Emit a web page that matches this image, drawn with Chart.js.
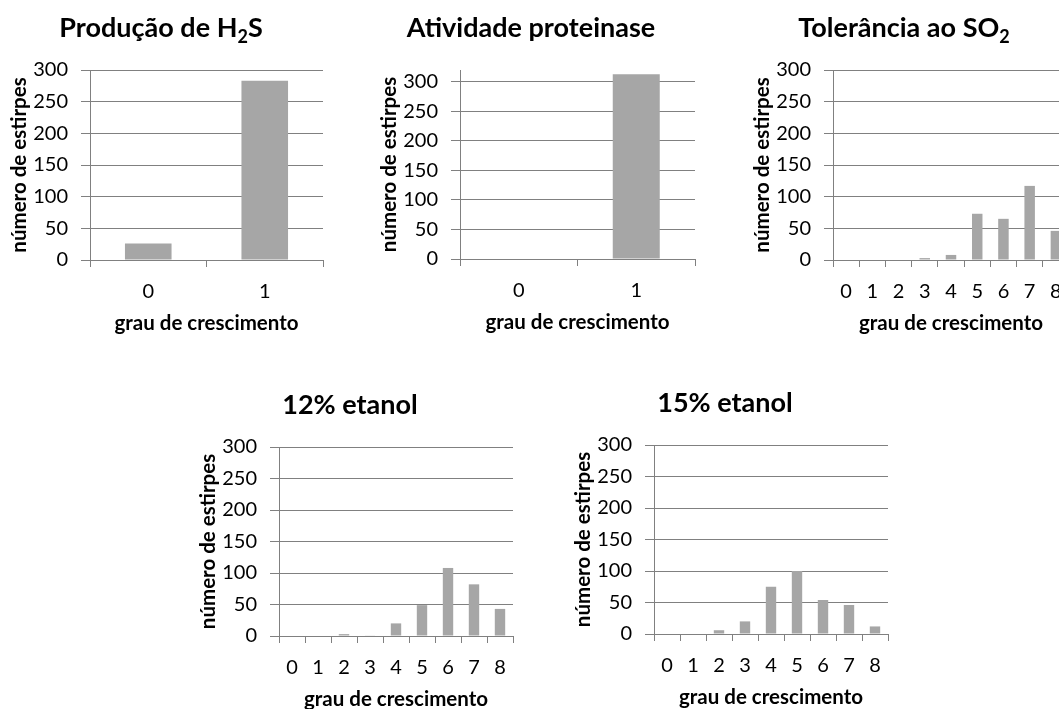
<!DOCTYPE html>
<html>
<head>
<meta charset="utf-8">
<script src="https://cdn.jsdelivr.net/npm/chart.js@4.4.0/dist/chart.umd.min.js"></script>
<style>
  html, body { margin: 0; padding: 0; background: #fff; overflow: hidden; width: 1059px; height: 709px; }
  canvas { position: absolute; }
</style>
</head>
<body>
<canvas id="grafH2S"></canvas>
<canvas id="grafProteinase"></canvas>
<canvas id="grafSO2"></canvas>
<canvas id="grafEtanol12"></canvas>
<canvas id="grafEtanol15"></canvas>
<script>
// graus de crescimento (eixo x) e marcas do eixo y
const grausBinarios = ['0', '1'];
const grausEscala = ['0', '1', '2', '3', '4', '5', '6', '7', '8'];
const marcasY = [0, 50, 100, 150, 200, 250, 300];

// número de estirpes por grau
const producaoH2S = [26, 283];
const atividadeProteinase = [0, 313];
const toleranciaSO2 = [0, 0, 0, 3, 8, 73, 65, 117, 46];
const etanol12 = [0, 0, 3, 1, 20, 49, 108, 82, 43];
const etanol15 = [0, 0, 6, 20, 75, 100, 54, 46, 12];

// títulos em partes, para poder baixar o índice do H2S e SO2
const tituloH2S = [['Produção de H'], ['2', 'sub'], ['S']];
const tituloProteinase = [['Atividade proteinase']];
const tituloSO2 = [['Tolerância ao SO'], ['2', 'sub']];
const titulo12 = [['12% etanol']];
const titulo15 = [['15% etanol']];

const cinzaBarra = '#a6a6a6';
const cinzaLinha = '#808080';
const fonte = 'Lato';

// desenha o título com o "2" em índice
const tituloPlugin = {
  id: 'tituloIndice',
  afterDraw(chart, args, opts) {
    const c = chart.ctx;
    const normal = 'bold 27px ' + fonte;
    const pequena = 'bold 18px ' + fonte;
    let total = 0;
    opts.partes.forEach(p => {
      c.font = p[1] === 'sub' ? pequena : normal;
      total += c.measureText(p[0]).width;
    });
    let x = opts.x - total / 2;
    c.save();
    c.fillStyle = '#000';
    c.textBaseline = 'alphabetic';
    c.textAlign = 'left';
    opts.partes.forEach(p => {
      const sub = p[1] === 'sub';
      c.font = sub ? pequena : normal;
      c.fillText(p[0], x, opts.y + (sub ? 6 : 0));
      x += c.measureText(p[0]).width;
    });
    c.restore();
  }
};

function grafico(id, area, titulo, graus, valores, yMax) {
  const canvas = document.getElementById(id);
  canvas.width = area.largura + 90 + 12;
  canvas.height = 60 + area.altura + 80;
  canvas.style.left = (area.x - 90) + 'px';
  canvas.style.top = (area.y - 60) + 'px';

  return new Chart(canvas.getContext('2d'), {
    type: 'bar',
    data: {
      labels: graus,
      datasets: [{
        data: valores,
        backgroundColor: cinzaBarra,
        borderWidth: 0,
        barPercentage: 0.4,
        categoryPercentage: 1.0
      }]
    },
    plugins: [tituloPlugin],
    options: {
      responsive: false,
      animation: false,
      layout: { padding: { top: 60, right: 12, bottom: 0, left: 0 } },
      plugins: {
        legend: { display: false },
        tooltip: { enabled: false },
        tituloIndice: { partes: titulo, x: 161, y: 27 }
      },
      scales: {
        x: {
          grid: { drawOnChartArea: false, drawTicks: true, tickLength: 7, color: cinzaLinha, offset: true },
          border: { display: true, color: cinzaLinha },
          ticks: { color: '#000', font: { family: fonte, size: 20 }, padding: 13, maxRotation: 0 },
          title: {
            display: true, text: 'grau de crescimento', color: '#000',
            font: { family: fonte, size: 20.5, weight: 'bold' }, padding: { top: 0, bottom: 4 }
          },
          afterFit(scale) { scale.height = 80; }
        },
        y: {
          min: 0,
          max: yMax,
          afterBuildTicks(scale) { scale.ticks = marcasY.map(v => ({ value: v })); },
          grid: { color: cinzaLinha, drawTicks: true, tickLength: 9 },
          border: { display: true, color: cinzaLinha },
          ticks: { color: '#000', font: { family: fonte, size: 20 }, padding: 13 },
          title: {
            display: true, text: 'número de estirpes', color: '#000',
            font: { family: fonte, size: 20.5, weight: 'bold' }, padding: { top: 7, bottom: 0 }
          },
          afterFit(scale) { scale.width = 90; }
        }
      }
    }
  });
}

grafico('grafH2S', { x: 90, y: 70, largura: 233, altura: 190 }, tituloH2S, grausBinarios, producaoH2S, 300);
grafico('grafProteinase', { x: 460, y: 70, largura: 235, altura: 189 }, tituloProteinase, grausBinarios, atividadeProteinase, 320);
grafico('grafSO2', { x: 833, y: 70, largura: 236, altura: 190 }, tituloSO2, grausEscala, toleranciaSO2, 300);
grafico('grafEtanol12', { x: 279, y: 447, largura: 234, altura: 189 }, titulo12, grausEscala, etanol12, 300);
grafico('grafEtanol15', { x: 654, y: 445, largura: 234, altura: 189 }, titulo15, grausEscala, etanol15, 300);
</script>
</body>
</html>
